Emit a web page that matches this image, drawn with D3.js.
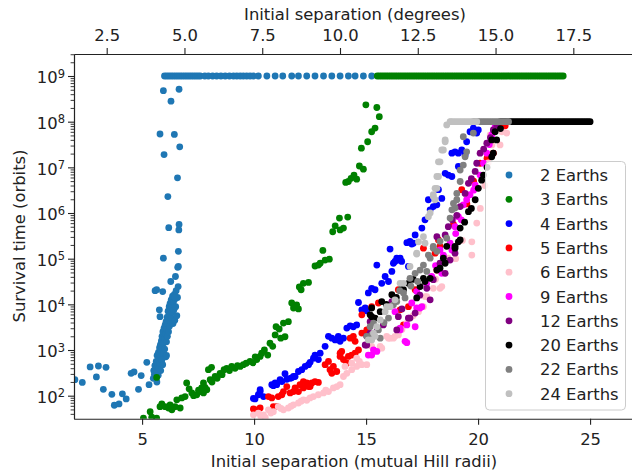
<!DOCTYPE html>
<html>
<head>
<meta charset="utf-8">
<script src="https://cdn.jsdelivr.net/npm/d3@7/dist/d3.min.js"></script>
<style>
  body { margin: 0; background: #fff; }
  text { font-family: "DejaVu Sans", sans-serif; fill: #222; }
</style>
</head>
<body>
<svg id="chart" width="632" height="474"></svg>
<script>
// [separation in mutual Hill radii, log10 survival time in orbits]
var earths2 = [[2.0,2.35],[2.33,2.29],[2.68,2.63],[2.96,2.41],[3.05,2.65],[3.27,2.14],[3.39,2.62],[3.65,2.03],[3.76,1.79],[3.97,1.82],[4.12,2.04],[4.29,1.93],[4.51,2.49],[4.64,2.52],[4.84,2.14],[4.96,2.44],[5.21,2.73],[5.31,2.24],
  [5.50,2.38],[5.52,2.55],[5.55,2.47],[5.57,2.66],[5.60,2.42],[5.62,2.58],[5.63,2.75],[5.65,2.50],[5.67,2.88],[5.68,2.62],[5.70,2.70],[5.72,2.45],[5.73,2.95],[5.75,2.80],[5.76,2.60],[5.78,3.05],[5.79,2.72],[5.80,2.90],[5.82,3.12],[5.83,2.55],[5.85,2.98],[5.86,3.20],[5.88,2.78],[5.89,3.30],[5.90,3.05],[5.92,2.68],[5.93,3.40],[5.95,3.15],[5.96,2.92],[5.98,3.48],[6.00,3.25],[6.01,3.02],[6.03,3.55],[6.04,3.35],[6.06,2.85],[6.07,3.62],[6.09,3.18],[6.10,3.45],[6.12,3.72],[6.13,3.30],[6.15,3.58],[6.16,3.85],[6.18,3.40],[6.19,3.68],[6.21,3.95],[6.22,3.52],[6.24,3.78],[6.25,4.02],[6.27,3.62],[6.28,3.90],[6.30,4.10],[6.31,3.70],[6.33,4.00],[6.35,3.82],[6.36,4.18],[6.38,3.58],[6.40,4.05],[6.42,3.88],[6.44,4.22],[6.46,3.65],[6.48,4.12],[6.50,3.95],[6.52,4.30],[6.55,3.75],[6.58,4.15],
  [5.58,4.30],[5.92,4.28],[6.47,4.15],[6.28,4.50],[6.61,4.39],[6.49,4.61],[6.59,4.81],[6.62,4.83],[5.65,4.32],[5.95,5.01],[6.62,5.16],[6.64,5.63],[6.65,5.75],[6.19,5.68],[6.15,6.36],[6.58,6.77],[5.98,7.28],[6.68,7.45],[5.80,7.73],[6.44,7.72],[6.29,8.45],[5.95,8.68],[6.65,8.71],[5.77,3.88],[5.80,3.73],[6.09,2.88],[5.66,2.30]];
var stable2 = [6.0,6.1,6.2,6.3,6.4,6.5,6.6,6.7,6.8,6.9,7.0,7.1,7.2,7.3,7.4,7.5,7.6,7.8,7.96,8.15,8.33,8.52,8.71,8.90,9.08,9.23,9.38,9.52,9.67,9.82,9.97,10.19,10.57,10.94,11.28,11.68,11.98,12.35,12.72,13.10,13.47,13.84,14.21,14.51,14.88,15.25];

var earths3 = [[5.06,1.51],[5.36,1.65],[5.43,1.53],[5.65,1.51],[5.65,2.40],[5.80,1.76],[5.88,1.82],[6.03,1.76],[6.18,1.73],[6.25,1.80],[6.33,1.69],[6.47,1.76],[6.55,1.91],[6.70,1.73],[6.77,1.95],[6.92,1.98],[6.99,2.28],[7.10,2.15],[7.22,2.06],[7.30,2.00],[7.44,2.02],[7.52,2.12],[7.59,2.09],[7.66,2.17],[7.74,2.06],[7.74,2.28],[7.81,2.18],[7.89,2.13],[7.96,2.57],[8.04,2.35],[8.10,2.62],[8.12,2.30],[8.26,2.42],[8.35,2.38],[8.48,2.49],[8.57,2.46],[8.66,2.57],[8.78,2.60],[8.90,2.55],[9.00,2.64],[9.15,2.60],[9.26,2.66],[9.38,2.64],[9.52,2.68],[9.65,2.71],[9.82,2.75],[9.95,2.72],[10.05,2.85],[10.12,2.79],[10.27,2.86],[10.34,2.93],[10.46,3.00],[10.61,2.89],[10.71,3.15],[10.83,3.08],[10.94,3.33],[10.98,3.51],[11.12,3.46],[11.19,3.26],[11.31,3.59],[11.38,3.29],[11.53,3.62],[11.68,4.03],[11.76,3.92],[11.90,3.99],[11.98,3.90],[12.02,4.38],[12.10,4.32],[12.20,4.46],[12.43,4.48],[12.72,4.84],[12.87,4.86],[12.95,4.90],[13.07,5.18],[13.17,4.97],[13.36,4.99],[13.51,5.59],[13.62,5.72],[13.81,5.89],[13.84,5.63],[13.99,5.67],[14.18,5.91],[14.09,6.67],[14.21,6.69],[14.33,6.76],[14.46,6.83],[14.58,6.74],[14.70,7.03],[14.88,6.96],[14.79,7.42],[15.07,7.56],[15.25,7.78],[15.40,7.86],[14.99,8.37],[15.48,8.31],[15.59,8.11]];
var stable3 = [15.5,15.6,15.7,15.8,15.9,16.0,16.1,16.2,16.3,16.4,16.5,16.6,16.7,16.8,16.9,17.0,17.1,17.2,17.3,17.4,17.5,17.6,17.7,17.8,17.9,18.0,18.1,18.2,18.3,18.4,18.5,18.6,18.7,18.8,18.9,19.0,19.1,19.2,19.3,19.4,19.5,19.6,19.7,19.8,19.9,20.0,20.1,20.2,20.3,20.4,20.5,20.6,20.7,20.8,20.9,21.0,21.1,21.2,21.3,21.4,21.5,21.6,21.7,21.8,21.9,22.0,22.1,22.2,22.3,22.4,22.5,22.6,22.7,22.8,22.9,23.0,23.1,23.2,23.3,23.4,23.5,23.6,23.7,23.8];

var earths4 = [[9.97,1.94],[10.04,1.93],[10.19,2.02],[10.27,2.09],[10.27,2.13],[10.42,1.98],[10.79,2.24],[10.86,2.22],[10.94,2.28],[11.01,2.24],[11.16,2.35],[11.24,2.31],[11.38,2.48],[11.46,2.36],[11.61,2.38],[11.68,2.39],[11.76,2.42],[11.83,2.42],[11.98,2.53],[12.13,2.57],[12.28,2.64],[12.43,2.68],[12.50,2.73],[12.65,2.82],[12.72,2.89],[12.87,2.79],[12.95,2.93],[13.17,3.08],[13.32,3.30],[13.47,3.26],[13.62,3.22],[13.76,3.30],[13.84,3.19],[13.99,3.26],[14.14,3.48],[14.29,3.53],[14.43,3.51],[14.58,3.55],[14.66,4.04],[14.81,3.88],[14.96,3.92],[15.03,3.86],[15.10,4.25],[15.25,4.35],[15.40,4.32],[15.48,4.86],[15.70,4.46],[15.85,4.61],[16.00,4.50],[16.07,5.21],[16.15,4.72],[16.22,4.90],[16.29,4.94],[16.37,5.01],[16.44,4.97],[16.52,5.01],[16.59,4.94],[16.82,5.35],[16.89,4.83],[16.96,5.38],[17.04,5.32],[17.11,5.34],[17.19,5.52],[17.49,5.67],[17.63,5.85],[17.78,6.29],[17.86,6.07],[18.00,6.14],[18.16,6.18],[18.23,6.51],[18.38,6.32],[18.53,6.87],[18.67,6.83],[18.83,6.80],[18.83,7.31],[18.97,7.34],[19.12,7.02],[19.12,7.31],[19.27,7.38],[19.42,7.27],[19.49,7.56],[19.64,7.78],[19.79,7.86],[19.94,7.75],[20.01,7.82]];

var earths5 = [[9.97,1.71],[10.12,1.69],[10.27,1.73],[10.64,1.98],[10.79,1.95],[10.86,1.76],[11.01,1.76],[11.08,1.98],[11.24,2.02],[11.31,2.09],[11.46,2.20],[11.61,2.06],[11.76,2.09],[11.83,2.17],[11.98,2.09],[12.05,2.24],[12.20,2.31],[12.20,2.17],[12.35,2.28],[12.43,2.20],[12.50,2.20],[12.58,2.28],[12.72,2.31],[12.87,2.29],[13.17,2.68],[13.32,2.75],[13.39,2.57],[13.47,2.49],[13.54,2.64],[13.69,2.53],[13.84,2.93],[13.84,2.86],[13.91,2.97],[13.99,2.79],[14.14,2.71],[14.21,2.86],[14.29,3.26],[14.36,2.89],[14.43,3.30],[14.51,2.93],[14.51,3.19],[14.66,3.00],[14.81,3.77],[14.81,3.37],[14.96,3.37],[15.03,3.44],[15.25,3.95],[15.55,4.03],[16.44,4.32],[16.52,3.88],[16.67,3.55],[16.89,3.95],[17.19,4.32],[17.56,5.23],[18.08,5.12],[18.16,4.75],[18.23,5.41],[18.30,5.27],[18.90,5.75],[19.27,6.51],[19.50,6.20],[19.80,6.70],[20.09,7.09],[20.40,7.20],[20.68,7.31],[21.00,7.89],[21.06,7.89],[21.21,7.91]];

var earths6 = [[9.97,1.58],[10.19,1.62],[10.30,1.55],[10.42,1.58],[10.50,1.52],[10.64,1.69],[10.75,1.62],[10.86,1.65],[11.08,1.76],[11.20,1.72],[11.31,1.69],[11.53,1.73],[11.65,1.77],[11.76,1.80],[11.98,1.84],[12.10,1.88],[12.20,1.91],[12.35,1.90],[12.50,1.95],[12.65,1.98],[12.87,2.02],[13.10,2.06],[13.20,2.12],[13.32,2.09],[13.54,2.17],[13.70,2.20],[13.84,2.24],[13.99,2.42],[14.06,2.64],[14.14,2.49],[14.36,2.57],[14.36,2.71],[14.58,2.64],[14.58,2.82],[14.70,2.75],[14.81,2.68],[15.03,2.68],[15.25,3.08],[15.63,3.08],[15.70,3.04],[15.92,3.30],[16.00,3.26],[16.07,3.26],[16.22,3.26],[16.29,3.30],[16.44,3.33],[16.60,3.45],[16.82,3.59],[17.10,3.75],[17.34,3.84],[17.56,3.95],[17.63,4.17],[17.71,4.17],[18.00,4.35],[18.10,4.55],[18.30,4.35],[18.38,4.39],[18.67,5.01],[19.00,5.00],[19.30,5.40],[19.72,5.08],[19.72,5.37],[19.94,5.78],[20.10,6.10],[20.30,6.60],[20.45,7.10],[20.54,7.71],[20.62,7.49],[20.98,7.49],[21.06,7.78],[21.28,7.75]];

var earths9 = [[15.10,2.89],[15.25,2.89],[15.33,3.00],[15.48,2.97],[16.29,3.84],[16.52,3.44],[16.52,3.48],[16.74,3.19],[16.82,3.16],[16.82,3.55],[16.90,3.70],[17.04,4.03],[17.19,3.51],[17.26,3.92],[17.26,4.28],[17.41,3.92],[17.49,3.95],[17.70,4.45],[17.93,4.61],[18.10,4.85],[18.30,5.19],[18.38,4.68],[18.45,5.05],[18.45,5.08],[18.75,5.34],[18.83,5.19],[18.97,5.70],[19.00,5.55],[19.12,5.92],[19.25,5.85],[19.34,6.18],[19.49,6.29],[19.64,6.40],[19.80,6.50],[19.87,6.61],[20.09,6.83],[20.24,7.09],[20.39,7.31],[20.50,7.50],[20.61,7.71],[20.76,7.89]];

var earths12 = [[14.96,3.11],[15.03,3.30],[15.03,3.11],[15.18,3.37],[15.18,3.62],[15.50,3.45],[15.77,3.55],[16.00,3.95],[16.15,4.06],[16.37,3.44],[16.44,3.73],[16.60,3.90],[16.89,3.70],[16.96,3.70],[17.19,3.81],[17.40,4.20],[17.71,4.35],[17.86,4.10],[18.00,4.54],[18.16,5.48],[18.30,4.90],[18.53,4.68],[18.53,5.52],[18.67,5.70],[18.75,4.97],[18.85,5.85],[18.97,5.12],[19.05,5.95],[19.20,6.14],[19.42,6.43],[19.57,6.65],[19.70,6.75],[19.87,6.91],[19.94,7.09],[20.09,7.31],[20.25,7.40],[20.39,7.53],[20.55,7.65],[20.68,7.82],[20.83,7.93]];

var earths20 = [[15.18,3.77],[15.25,3.92],[15.25,3.73],[15.40,3.70],[15.63,3.84],[15.70,4.06],[15.90,4.00],[16.15,4.21],[16.35,4.15],[16.59,4.35],[16.67,4.32],[16.89,4.46],[17.10,4.55],[17.26,4.14],[17.41,4.39],[17.56,4.57],[17.63,4.50],[17.86,4.57],[18.16,4.75],[18.30,4.79],[18.45,5.01],[18.53,4.90],[18.60,5.27],[18.97,5.23],[18.97,5.27],[19.12,5.37],[19.20,5.41],[19.20,5.67],[19.40,5.80],[19.57,6.03],[19.70,6.10],[19.87,6.29],[20.01,6.54],[20.16,6.72],[20.24,6.83],[20.40,7.00],[20.61,7.23],[20.68,7.31],[20.61,7.60],[20.76,7.78],[20.83,7.60],[21.00,7.85]];
var stable20 = [21.0,21.1,21.2,21.3,21.4,21.5,21.6,21.7,21.8,21.9,22.0,22.1,22.2,22.3,22.4,22.5,22.6,22.7,22.8,22.9,23.0,23.1,23.2,23.3,23.4,23.5,23.6,23.7,23.8,23.9,24.0,24.1,24.2,24.3,24.4,24.5,24.6,24.7,24.8,24.9,25.0];

var earths22 = [[15.03,3.30],[15.18,3.51],[15.25,3.33],[15.33,3.59],[15.55,3.44],[15.63,3.26],[15.80,3.60],[16.00,3.70],[16.22,3.99],[16.37,4.06],[16.50,4.30],[16.67,4.25],[16.74,4.14],[16.96,4.57],[17.00,4.40],[17.19,4.68],[17.30,4.50],[17.41,4.75],[17.56,4.86],[17.71,4.72],[17.78,5.08],[17.86,5.01],[18.00,5.23],[18.00,5.27],[18.16,5.16],[18.30,5.38],[18.60,5.45],[18.75,5.89],[18.83,6.07],[18.90,6.21],[18.97,6.11],[19.05,6.29],[19.05,6.43],[19.20,6.69],[19.20,6.94],[19.34,7.05],[19.42,7.23],[19.49,7.34],[19.34,7.67],[19.79,7.75]];
var stable22 = [19.8,19.9,20.0,20.1,20.2,20.3,20.4,20.5,20.6,20.7,20.8,20.9,21.0,21.1,21.2,21.3,21.36];

var earths24 = [[15.10,3.22],[15.25,3.22],[15.33,3.37],[15.40,3.30],[15.48,3.51],[15.63,3.66],[15.85,3.84],[15.92,3.95],[16.07,3.95],[16.29,4.10],[16.52,4.46],[16.67,4.46],[16.96,4.83],[17.26,5.10],[17.26,5.12],[17.34,5.37],[17.56,5.48],[17.63,5.34],[17.78,5.92],[17.86,6.00],[18.00,6.36],[18.00,6.40],[18.08,6.29],[18.08,6.54],[18.16,6.54],[18.16,6.80],[18.23,6.80],[18.23,7.12],[18.30,7.12],[18.38,7.38],[18.45,7.38],[18.53,7.56],[18.53,7.60],[18.60,7.93]];
var stable24 = [18.75,18.8,18.9,19.0,19.1,19.2,19.3,19.4,19.5,19.6,19.7,19.8,19.9,19.94];

var legendLabels = ['2 Earths', '3 Earths', '4 Earths', '5 Earths', '6 Earths', '9 Earths', '12 Earths', '20 Earths', '22 Earths', '24 Earths'];
var colors = ['#1f77b4', 'green', 'blue', 'red', 'pink', 'magenta', 'purple', 'black', 'gray', 'silver'];
var hillTicks = [5, 10, 15, 20, 25];
var degreeTicks = [2.5, 5.0, 7.5, 10.0, 12.5, 15.0, 17.5];
var timeTicks = [1e2, 1e3, 1e4, 1e5, 1e6, 1e7, 1e8, 1e9];

var series = [
  {pts: earths2, stable: stable2, logStable: 9},
  {pts: earths3, stable: stable3, logStable: 9},
  {pts: earths4, stable: [], logStable: 8},
  {pts: earths5, stable: [], logStable: 8},
  {pts: earths6, stable: [], logStable: 8},
  {pts: earths9, stable: [], logStable: 8},
  {pts: earths12, stable: [], logStable: 8},
  {pts: earths20, stable: stable20, logStable: 8},
  {pts: earths22, stable: stable22, logStable: 8},
  {pts: earths24, stable: stable24, logStable: 8}
];

(function () {
  var svg = d3.select('#chart'),
      pLeft = 74, pRight = 636, pTop = 54, pBottom = 418.7;

  var x = d3.scaleLinear().domain([1.96, 27.05]).range([pLeft, pRight]);
  var xTop = d3.scaleLinear().domain([1.449, 19.515]).range([pLeft, pRight]);
  var y = d3.scaleLog().domain([Math.pow(10, 1.496), Math.pow(10, 9.482)]).range([pBottom, pTop]);

  svg.append('defs').append('clipPath')
      .attr('id', 'clipper')
    .append('rect')
      .attr('x', pLeft).attr('y', pTop)
      .attr('width', pRight - pLeft).attr('height', pBottom - pTop);

  // points, one group per series in plotting order
  var dots = svg.append('g').attr('clip-path', 'url(#clipper)');
  series.forEach(function (s, i) {
    var data = s.pts.map(function (p) { return {sep: p[0], t: Math.pow(10, p[1])}; })
        .concat(s.stable.map(function (v) { return {sep: v, t: Math.pow(10, s.logStable)}; }));
    dots.append('g')
        .attr('fill', colors[i])
        .selectAll('circle')
        .data(data)
        .enter()
        .append('circle')
        .attr('cx', function (d) { return x(d.sep); })
        .attr('cy', function (d) { return y(d.t); })
        .attr('r', 3.4);
  });

  // axes
  var xAxis = d3.axisBottom(x).tickValues(hillTicks).tickFormat(d3.format('d'))
      .tickSize(6).tickSizeOuter(0).tickPadding(8.5);
  var xTopAxis = d3.axisTop(xTop).tickValues(degreeTicks).tickFormat(d3.format('.1f'))
      .tickSize(6).tickSizeOuter(0).tickPadding(7.3);
  // minor log ticks, only those inside the visible range
  var yDom = y.domain();
  var minorTicks = y.ticks().filter(function (v) {
    var lead = v / Math.pow(10, Math.floor(Math.log10(v) + 1e-9));
    return Math.round(lead) !== 1 && v >= yDom[0] && v <= yDom[1];
  });
  var yAxis = d3.axisLeft(y).tickValues(timeTicks).tickFormat('').tickSize(6).tickSizeOuter(0);
  var yMinor = d3.axisLeft(y).tickValues(minorTicks).tickFormat('').tickSize(3.4).tickSizeOuter(0);

  function styleAxis(g) {
    g.selectAll('path').attr('stroke', '#222').attr('stroke-width', 1.1);
    g.selectAll('line').attr('stroke', '#222').attr('stroke-width', 1.1);
    g.selectAll('text').attr('font-size', '16.4px').attr('fill', '#222')
        .attr('font-family', '"DejaVu Sans", sans-serif');
  }

  svg.append('g').attr('transform', 'translate(0,' + pBottom + ')').call(xAxis).call(styleAxis);
  svg.append('g').attr('transform', 'translate(0,' + pTop + ')').call(xTopAxis).call(styleAxis);
  svg.append('g').attr('transform', 'translate(' + pLeft + ',0)').call(yMinor).call(styleAxis)
      .selectAll('line').attr('stroke-width', 0.9);
  var yG = svg.append('g').attr('transform', 'translate(' + pLeft + ',0)').call(yAxis).call(styleAxis);

  // 10^n labels
  yG.selectAll('.tick').each(function (d) {
    var t = d3.select(this).append('text')
        .attr('x', -9).attr('y', 6.7)
        .attr('text-anchor', 'end')
        .attr('font-size', '16.4px');
    t.append('tspan').text('10');
    t.append('tspan').attr('dy', -5.5).attr('font-size', '11.5px').text(Math.round(Math.log10(d)));
  });

  // axis titles
  svg.append('text').attr('x', 355).attr('y', 20).attr('text-anchor', 'middle')
      .attr('font-size', '16.4px').text('Initial separation (degrees)');
  svg.append('text').attr('x', 354).attr('y', 467).attr('text-anchor', 'middle')
      .attr('font-size', '16.4px').text('Initial separation (mutual Hill radii)');
  svg.append('text').attr('transform', 'translate(24.5,236) rotate(-90)').attr('text-anchor', 'middle')
      .attr('font-size', '16.4px').text('Survival time (orbits)');

  // legend
  var legend = svg.append('g');
  legend.append('rect')
      .attr('x', 485.5).attr('y', 161.5).attr('width', 140).attr('height', 248.5)
      .attr('rx', 4)
      .attr('fill', '#fff').attr('fill-opacity', 0.8)
      .attr('stroke', '#ccc').attr('stroke-width', 1);
  var rows = legend.selectAll('g.row')
      .data(legendLabels)
      .enter()
      .append('g')
      .attr('class', 'row')
      .attr('transform', function (d, i) { return 'translate(0,' + (175 + i * 24.3) + ')'; });
  rows.append('circle').attr('cx', 509).attr('cy', 0).attr('r', 3.4)
      .attr('fill', function (d, i) { return colors[i]; });
  rows.append('text').attr('x', 540).attr('y', 6).attr('font-size', '16.4px')
      .text(function (d) { return d; });
})();
</script>
</body>
</html>
